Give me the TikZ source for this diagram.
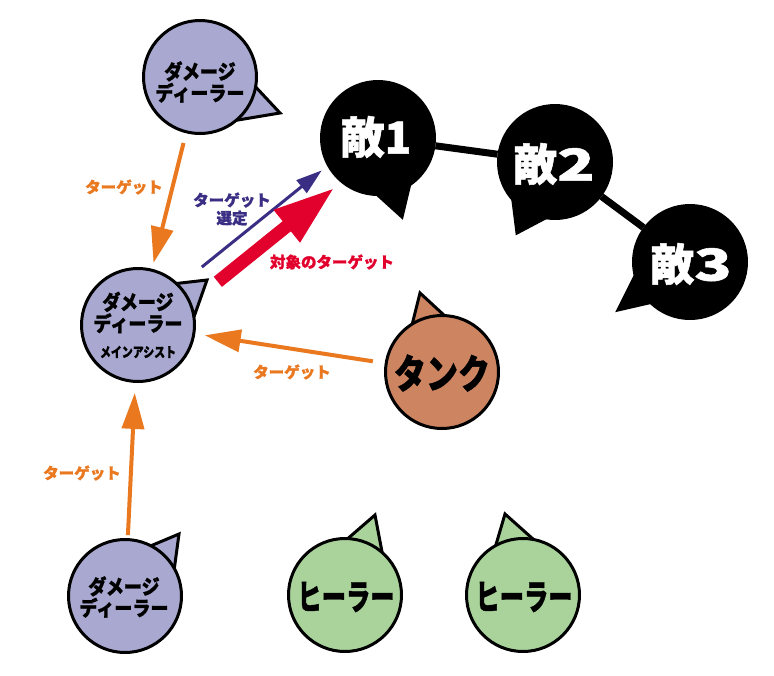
\documentclass[tikz,border=0pt]{standalone}
\usepackage{fontspec}
\usepackage{graphicx}
\setmainfont{Noto Sans CJK JP}[BoldFeatures={FakeBold=1.2}]
\usetikzlibrary{arrows.meta,calc,backgrounds}
\definecolor{lav}{HTML}{A8A8D0}
\definecolor{grn}{HTML}{A9D39B}
\definecolor{tankc}{HTML}{CC8461}
\definecolor{orng}{HTML}{E9781F}
\definecolor{navyc}{HTML}{3A2E84}
\definecolor{redc}{HTML}{E2002D}
\newcommand{\tallt}[1]{\scalebox{0.95}[1.08]{#1}}
\begin{document}
\begin{tikzpicture}[x=1pt,y=-1pt,
  bub/.style={circle,draw=black,line width=3pt,minimum size=113pt,inner sep=0pt},
  tailb/.style={draw=black,line width=3pt,line join=miter},
  txt/.style={inner sep=0pt,align=center},
  ddfont/.style={font={\fontsize{19}{21.5}\selectfont\bfseries}},
  lbl/.style={inner sep=0pt,align=center,font={\fontsize{15.5}{18}\selectfont\bfseries}},
  oarrow/.style={draw=orng,line width=4pt,-{Triangle[length=36pt,width=22pt]}},
  link/.style={draw=black,line width=7pt},
]
\useasboundingbox (0,0) rectangle (774,675);

% top damage dealer
\filldraw[tailb,fill=lav] (280,113) -- (252,83) -- (232,121) -- cycle;
\node[bub,fill=lav] (dps1) at (200,77) {};
\node[txt,ddfont] (dps1t) at (200,82) {\tallt{ダメージ}\\\tallt{ディーラー}};

% main assist
\filldraw[tailb,fill=lav] (207,280) -- (172,284) -- (195,314) -- cycle;
\node[bub,fill=lav] (main) at (138,325) {};
\node[txt,ddfont] (maint) at (138,312.5) {\tallt{ダメージ}\\\tallt{ディーラー}};
\node[txt,font={\fontsize{11.5}{12}\selectfont\bfseries}] (mainsub) at (138,352) {\scalebox{0.95}[1.2]{メインアシスト}};

% bottom damage dealer
\filldraw[tailb,fill=lav] (179,534) -- (148,547) -- (174,571) -- cycle;
\node[bub,fill=lav] (dps3) at (125,596) {};
\node[txt,ddfont] (dps3t) at (124,597) {\tallt{ダメージ}\\\tallt{ディーラー}};

% healers
\filldraw[tailb,fill=grn] (375,515) -- (345,541) -- (383,557) -- cycle;
\node[bub,fill=grn] (h1) at (345,595) {};
\node[txt,font={\fontsize{27}{27}\selectfont\bfseries}] (h1t) at (346,597) {\scalebox{0.9}[1.3]{ヒーラー}};
\filldraw[tailb,fill=grn] (505,514) -- (495,548) -- (533,539) -- cycle;
\node[bub,fill=grn] (h2) at (523,595) {};
\node[txt,font={\fontsize{27}{27}\selectfont\bfseries}] (h2t) at (524,597) {\scalebox{0.9}[1.3]{ヒーラー}};

% tank
\filldraw[tailb,fill=tankc] (420,293) -- (412,325) -- (446,317) -- cycle;
\node[bub,fill=tankc] (tank) at (442,372) {};
\node[txt,font={\fontsize{32}{32}\selectfont\bfseries}] (tankt) at (442,373) {\scalebox{1}[1.25]{タンク}};

% enemies
\filldraw[tailb,fill=black] (402,217) -- (370,188) -- (412,175) -- cycle;
\node[bub,fill=black] (e1) at (378,138) {};
\node[txt,text=white,font={\fontsize{44}{44}\selectfont\bfseries}] (e1t) at (376,137) {敵1};
\filldraw[tailb,fill=black] (517,233) -- (512,193) -- (553,214) -- cycle;
\node[bub,fill=black] (e2) at (555,162) {};
\node[txt,text=white,font={\fontsize{44}{44}\selectfont\bfseries}] (e2t) at (554,164) {敵\scalebox{1.4}[1]{2}};
\filldraw[tailb,fill=black] (618,310) -- (636,274) -- (653,302) -- cycle;
\node[bub,fill=black] (e3) at (690,262) {};
\node[txt,text=white,font={\fontsize{44}{44}\selectfont\bfseries}] (e3t) at (691,264) {敵\scalebox{1.4}[1]{3}};

\begin{pgfonlayer}{background}
\fill[white] (0,0) rectangle (774,675);
\draw[link] (e1) -- (e2);
\draw[link] (e2) -- (e3);
\end{pgfonlayer}

% orange target arrows
\draw[oarrow, shorten <=10pt, shorten >=6pt] (dps1) -- (main);
\draw[oarrow, shorten <=12pt, shorten >=9.5pt] (tank) -- (main);
\draw[oarrow, shorten <=3pt, shorten >=10pt] (dps3) -- (main);

% target selection (blue) and focus target (red)
\draw[draw=navyc,line width=3pt,-{Triangle[length=26pt,width=16pt]}]
  ($(main.center)!86pt!(e1.center)!6.5pt!90:(e1.center)$) --
  ($(main.center)!240pt!(e1.center)!9pt!90:(e1.center)$);
\draw[draw=redc,line width=13pt,-{Triangle[length=62pt,width=38pt]}]
  ($(main.center)!89.5pt!(e1.center)!15pt!-90:(e1.center)$) --
  ($(main.center)!240pt!(e1.center)!12.5pt!-90:(e1.center)$);

% labels
\node[lbl,text=orng] (l1) at (124,187) {ターゲット};
\node[lbl,text=navyc] (l2) at (232,209) {ターゲット\\選定};
\node[lbl,text=redc] (l3) at (332,262) {対象のターゲット};
\node[lbl,text=orng] (l4) at (292,372) {ターゲット};
\node[lbl,text=orng] (l5) at (82,473) {ターゲット};
\end{tikzpicture}
\end{document}
